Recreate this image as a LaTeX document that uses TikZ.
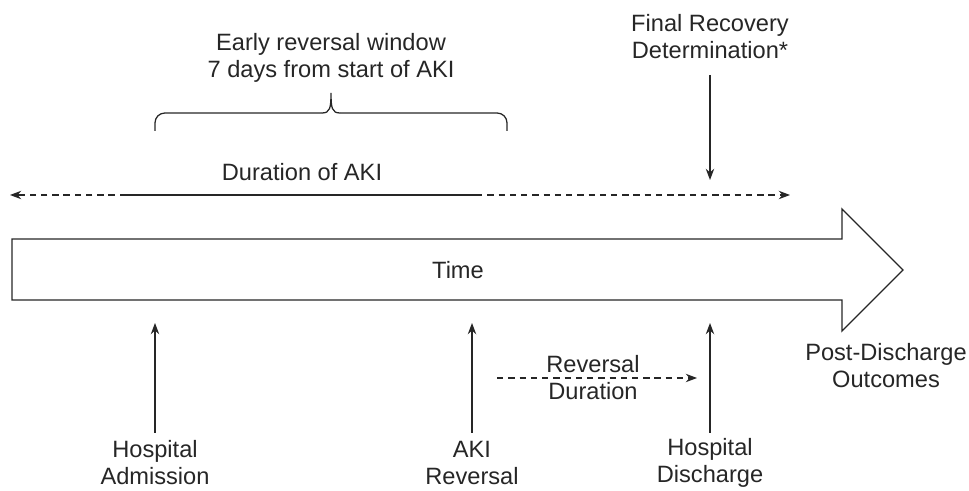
\documentclass[tikz,border=0pt]{standalone}
\usepackage{fontspec}
\setmainfont{Liberation Sans}
\usetikzlibrary{arrows.meta}

\tikzset{
  lbl/.style={align=center, font=\fontsize{16.8}{19.2}\selectfont, inner sep=0pt},
  tip/.style={-{Stealth[length=8pt,width=6pt]}},
  dsh/.style={dash pattern=on 4.5pt off 3.5pt},
}

\begin{document}
\begin{tikzpicture}[x=0.025cm, y=-0.025cm, line width=0.9pt, color=black!85]
    \useasboundingbox (0,0) rectangle (969,491);

    % time arrow
    \draw (12,239) -- (842,239) -- (842,209) -- (903,270) -- (842,331)
      -- (842,300) -- (12,300) -- cycle;
    \node[lbl] (time) at (458,270) {Time};

    % top labels
    \node[lbl] (early) at (331,58) {Early reversal window\\7 days from start of AKI};
    \node[lbl] (final) at (710,37) {Final Recovery\\Determination*};
    \node[lbl] (dur) at (302,172) {Duration of AKI};

    % brace
    \draw[rounded corners=7] (155,131) -- (155,113) -- (322,113);
    \draw (322,113) .. controls (330,113) and (331,108) .. (331,93)
      .. controls (331,108) and (332,113) .. (340,113);
    \draw[rounded corners=7] (340,113) -- (507,113) -- (507,131);

    % duration of AKI
    \coordinate (dl) at (10,195);
    \coordinate (ds) at (126,195);
    \coordinate (de) at (476,195);
    \coordinate (dr) at (790,195);
    \draw[tip, dsh] (ds) -- (dl);
    \draw (ds) -- (de);
    \draw[tip, dsh] (de) -- (dr);

    \coordinate (fs) at (710,75);
    \coordinate (fe) at (710,180);
    \draw[tip] (fs) -- (fe);

    % bottom labels
    \foreach \x/\n/\t in {155/adm/{Hospital\\Admission},
                          472/rev/{AKI\\Reversal},
                          710/dis/{Hospital\\Discharge}}
    {
      \node[lbl] (\n) at (\x,463) {\t};
      \coordinate (\n top) at (\x,323);
      \draw[tip] (\x,433) -- (\n top);
    }

    \node[lbl] (revdur) at (593,378) {Reversal\\Duration};
    \coordinate (rs) at (497,378);
    \coordinate (re) at (697,378);
    \draw[tip, dsh] (rs) -- (re);

    \node[lbl] (post) at (886,366) {Post-Discharge\\Outcomes};

\end{tikzpicture}
\end{document}
